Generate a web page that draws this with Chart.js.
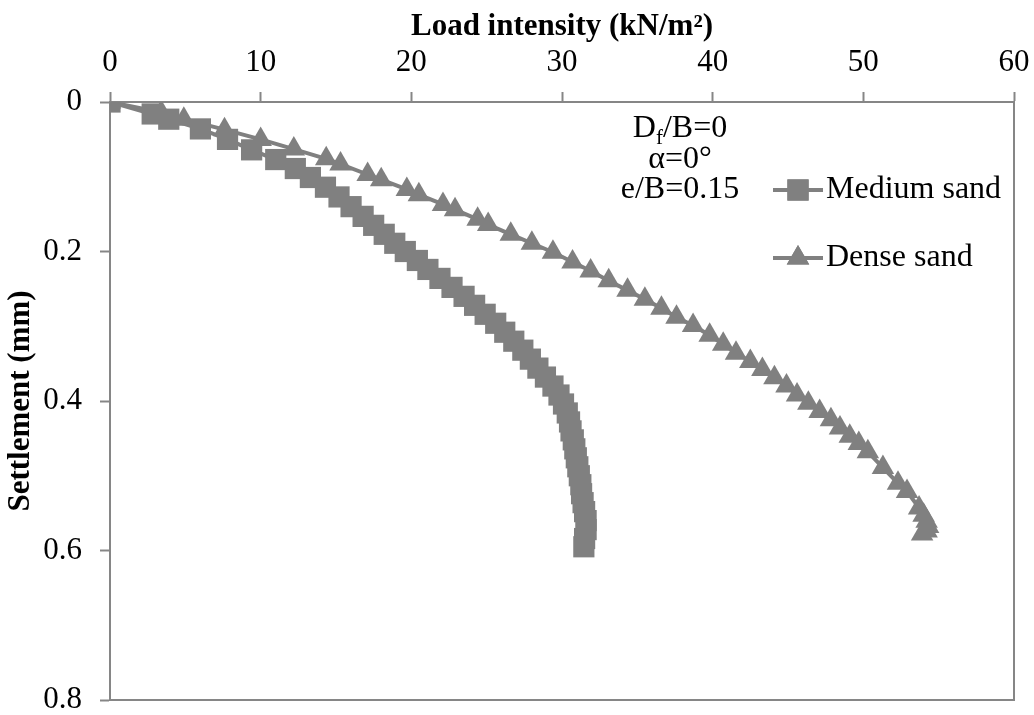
<!DOCTYPE html>
<html>
<head>
<meta charset="utf-8">
<script src="https://cdn.jsdelivr.net/npm/chart.js"></script>
<style>
    body { margin: 0; background: #fff; }
    #wrap { width: 1034px; height: 715px; }
</style>
</head>
<body>
<div id="wrap"><canvas id="chart"></canvas></div>
<script>
// load intensity (kN/m2) against settlement (mm)
var mediumLoad = [0, 2.8, 3.9, 6.0, 7.8, 9.4, 11.0, 12.3, 13.3, 14.3, 15.2, 16.0, 16.8, 17.5, 18.2, 18.9,
    19.6, 20.4, 21.1, 21.9, 22.7, 23.5, 24.2, 24.9, 25.6, 26.2, 26.8, 27.4, 27.9, 28.4, 28.9, 29.4,
    29.8, 30.1, 30.35, 30.5, 30.6, 30.75, 30.85, 30.95, 31.05, 31.15, 31.25, 31.3, 31.4, 31.5, 31.6,
    31.6, 31.5, 31.45];
var mediumSettle = [0, 0.016, 0.023, 0.036, 0.050, 0.064, 0.077, 0.089, 0.101, 0.114, 0.127, 0.140, 0.153,
    0.165, 0.177, 0.189, 0.200, 0.212, 0.224, 0.236, 0.248, 0.260, 0.272, 0.284, 0.296, 0.308, 0.320,
    0.332, 0.344, 0.356, 0.368, 0.380, 0.392, 0.404, 0.416, 0.428, 0.440, 0.452, 0.464, 0.476, 0.488,
    0.500, 0.512, 0.524, 0.536, 0.548, 0.560, 0.572, 0.584, 0.595];
var denseLoad = [0, 3.4, 4.9, 7.6, 10.0, 12.2, 14.35, 15.3, 17.1, 18.0, 19.7, 20.5, 22.1, 22.9, 24.4, 25.1,
    26.6, 28.0, 29.4, 30.7, 31.9, 33.1, 34.35, 35.5, 36.6, 37.6, 38.7, 39.8, 40.7, 41.55, 42.5, 43.3,
    44.1, 44.9, 45.6, 46.35, 47.1, 47.85, 48.45, 49.1, 49.7, 50.3, 51.3, 52.3, 52.9, 53.7, 54.0, 54.2,
    54.3, 54.2, 53.9];
var denseSettle = [0, 0.014, 0.023, 0.037, 0.050, 0.063, 0.076, 0.083, 0.097, 0.104, 0.117, 0.124, 0.137,
    0.144, 0.157, 0.164, 0.177, 0.189, 0.201, 0.214, 0.226, 0.239, 0.252, 0.264, 0.276, 0.288, 0.299,
    0.312, 0.324, 0.336, 0.347, 0.358, 0.369, 0.380, 0.392, 0.403, 0.414, 0.425, 0.436, 0.447, 0.457,
    0.468, 0.489, 0.510, 0.521, 0.543, 0.553, 0.561, 0.568, 0.574, 0.578];
var loadTicks = [0, 10, 20, 30, 40, 50, 60];
var settleTicks = [0, 0.2, 0.4, 0.6, 0.8];
var seriesNames = ['Medium sand', 'Dense sand'];

var grey = '#808080';
var axisGrey = '#868686';
var serif = "'Liberation Serif', 'Times New Roman', serif";

function pairs(xs, ys) {
    return xs.map(function(x, i) { return {x: x, y: ys[i]}; });
}

// right/bottom frame, the D_f/B note and the legend
var extras = {
    id: 'extras',
    afterDraw: function(chart) {
        var ctx = chart.ctx, a = chart.chartArea;
        ctx.save();
        ctx.strokeStyle = axisGrey;
        ctx.lineWidth = 2;
        ctx.beginPath();
        ctx.moveTo(a.left, a.bottom);
        ctx.lineTo(a.right, a.bottom);
        ctx.lineTo(a.right, a.top);
        ctx.stroke();

        ctx.fillStyle = '#000';
        ctx.textBaseline = 'middle';
        // first line has a subscript f
        var d = 'D', f = 'f', rest = '/B=0';
        ctx.font = '32px ' + serif;
        var wD = ctx.measureText(d).width, wR = ctx.measureText(rest).width;
        ctx.font = '21px ' + serif;
        var wF = ctx.measureText(f).width;
        var x0 = 680 - (wD + wF + wR) / 2;
        ctx.textAlign = 'left';
        ctx.font = '32px ' + serif;
        ctx.fillText(d, x0, 129);
        ctx.font = '21px ' + serif;
        ctx.fillText(f, x0 + wD, 138);
        ctx.font = '32px ' + serif;
        ctx.fillText(rest, x0 + wD + wF, 129);
        ctx.textAlign = 'center';
        ctx.fillText('α=0°', 680, 160);
        ctx.fillText('e/B=0.15', 680, 190);

        var rows = [190, 258];
        chart.data.datasets.forEach(function(ds, i) {
            var y = rows[i];
            ctx.strokeStyle = ds.borderColor;
            ctx.lineWidth = ds.borderWidth;
            ctx.beginPath();
            ctx.moveTo(773, y);
            ctx.lineTo(823, y);
            ctx.stroke();
            ctx.fillStyle = ds.pointBackgroundColor;
            Chart.helpers.drawPoint(ctx, {pointStyle: ds.pointStyle, radius: ds.pointRadius, rotation: 0, borderWidth: 0}, 798, y);
            ctx.fill();
            ctx.fillStyle = '#000';
            ctx.textAlign = 'left';
            ctx.font = '32px ' + serif;
            ctx.fillText(ds.label, 826, y);
        });
        ctx.restore();
    }
};

new Chart('chart', {
    type: 'scatter',
    data: {
        datasets: [{
            label: seriesNames[0],
            data: pairs(mediumLoad, mediumSettle),
            showLine: true,
            borderColor: grey,
            borderWidth: 4,
            pointStyle: 'rect',
            pointRadius: 15,
            pointBackgroundColor: grey,
            pointBorderWidth: 0,
            tension: 0
        }, {
            label: seriesNames[1],
            data: pairs(denseLoad, denseSettle),
            showLine: true,
            borderColor: grey,
            borderWidth: 4,
            pointStyle: 'triangle',
            pointRadius: 13,
            pointBackgroundColor: grey,
            pointBorderWidth: 0,
            tension: 0
        }]
    },
    options: {
        responsive: true,
        maintainAspectRatio: false,
        animation: false,
        layout: { padding: { left: 0, top: 0, right: 20, bottom: 13 } },
        plugins: { legend: { display: false }, tooltip: { enabled: false } },
        scales: {
            x: {
                position: 'top',
                min: 0, max: 60,
                afterBuildTicks: function(s) { s.ticks = loadTicks.map(function(v) { return {value: v}; }); },
                afterFit: function(s) { s.height = 102; s.paddingLeft = 0; s.paddingRight = 0; },
                grid: { drawOnChartArea: false, tickLength: 10, tickColor: axisGrey, tickWidth: 2 },
                border: { color: axisGrey, width: 2 },
                ticks: { color: '#000', padding: 11, maxRotation: 0, font: { family: serif, size: 31 } },
                title: { display: true, text: 'Load intensity (kN/m²)', color: '#000',
                    padding: { top: 8, bottom: 0 }, font: { family: serif, size: 31, weight: 'bold' } }
            },
            y: {
                reverse: true,
                min: 0, max: 0.8,
                afterBuildTicks: function(s) { s.ticks = settleTicks.map(function(v) { return {value: v}; }); },
                afterFit: function(s) { s.width = 110; s.paddingTop = 0; s.paddingBottom = 0; },
                grid: { drawOnChartArea: false, tickLength: 10, tickColor: axisGrey, tickWidth: 2 },
                border: { color: axisGrey, width: 2 },
                ticks: { color: '#000', padding: 18, font: { family: serif, size: 31 } },
                title: { display: true, text: 'Settlement (mm)', color: '#000',
                    padding: { top: 2, bottom: 0 }, font: { family: serif, size: 31, weight: 'bold' } }
            }
        }
    },
    plugins: [extras]
});
</script>
</body>
</html>
